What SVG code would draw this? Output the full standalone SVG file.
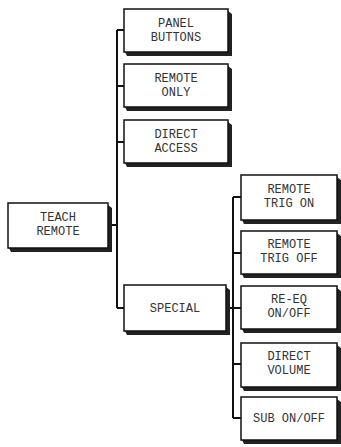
<svg xmlns="http://www.w3.org/2000/svg" width="341" height="447" viewBox="0 0 341 447">
<style>
.box{fill:#fff;stroke:#111;stroke-width:1.5}
.sh{fill:#222}
.t{font-family:"Liberation Mono","Courier New",monospace;font-size:12px;fill:#333;text-anchor:middle}
.ln{fill:none;stroke:#111;stroke-width:2}
</style>
<rect width="341" height="447" fill="#fff"/>
<g id="connectors">
<path class="ln" d="M117,30V308M117,30H124M117,86H124M117,142H124M108,225H117M117,308H124"/>
<path class="ln" d="M233,197V418M233,197H241M233,253H241M226,308H241M233,364H241M233,418H241"/>
</g>
<g id="teach">
<polygon class="sh" points="108,205 112,208 112,252 11,252 9,248 108,248"/>
<rect class="box" x="8" y="203" width="100" height="45"/>
<text class="t" x="58" y="221">TEACH</text><text class="t" x="58" y="235">REMOTE</text>
</g>
<g id="panel">
<polygon class="sh" points="228,11 232,14 232,56 127,56 125,52 228,52"/>
<rect class="box" x="124" y="9" width="104" height="43"/>
<text class="t" x="176" y="27">PANEL</text><text class="t" x="176" y="41">BUTTONS</text>
</g>
<g id="remoteonly">
<polygon class="sh" points="228,66 232,69 232,111 127,111 125,107 228,107"/>
<rect class="box" x="124" y="64" width="104" height="43"/>
<text class="t" x="176" y="82">REMOTE</text><text class="t" x="176" y="96">ONLY</text>
</g>
<g id="direct">
<polygon class="sh" points="228,122 232,125 232,167 127,167 125,163 228,163"/>
<rect class="box" x="124" y="120" width="104" height="43"/>
<text class="t" x="176" y="138">DIRECT</text><text class="t" x="176" y="152">ACCESS</text>
</g>
<g id="special">
<polygon class="sh" points="226,287 230,290 230,335 127,335 125,331 226,331"/>
<rect class="box" x="124" y="285" width="102" height="46"/>
<text class="t" x="175" y="312">SPECIAL</text>
</g>
<g id="trigon">
<polygon class="sh" points="337,177 341,180 341,224 244,224 242,220 337,220"/>
<rect class="box" x="241" y="175" width="96" height="45"/>
<text class="t" x="289" y="193">REMOTE</text><text class="t" x="289" y="207">TRIG ON</text>
</g>
<g id="trigoff">
<polygon class="sh" points="337,233 341,236 341,278 244,278 242,274 337,274"/>
<rect class="box" x="241" y="231" width="96" height="43"/>
<text class="t" x="289" y="248">REMOTE</text><text class="t" x="289" y="262">TRIG OFF</text>
</g>
<g id="reeq">
<polygon class="sh" points="337,288 341,291 341,333 244,333 242,329 337,329"/>
<rect class="box" x="241" y="286" width="96" height="43"/>
<text class="t" x="289" y="303">RE-EQ</text><text class="t" x="289" y="317">ON/OFF</text>
</g>
<g id="volume">
<polygon class="sh" points="337,345 341,348 341,391 244,391 242,387 337,387"/>
<rect class="box" x="241" y="343" width="96" height="44"/>
<text class="t" x="289" y="360">DIRECT</text><text class="t" x="289" y="374">VOLUME</text>
</g>
<g id="sub">
<polygon class="sh" points="337,399 341,402 341,444 244,444 242,440 337,440"/>
<rect class="box" x="241" y="397" width="96" height="43"/>
<text class="t" x="289" y="422">SUB ON/OFF</text>
</g>
</svg>
